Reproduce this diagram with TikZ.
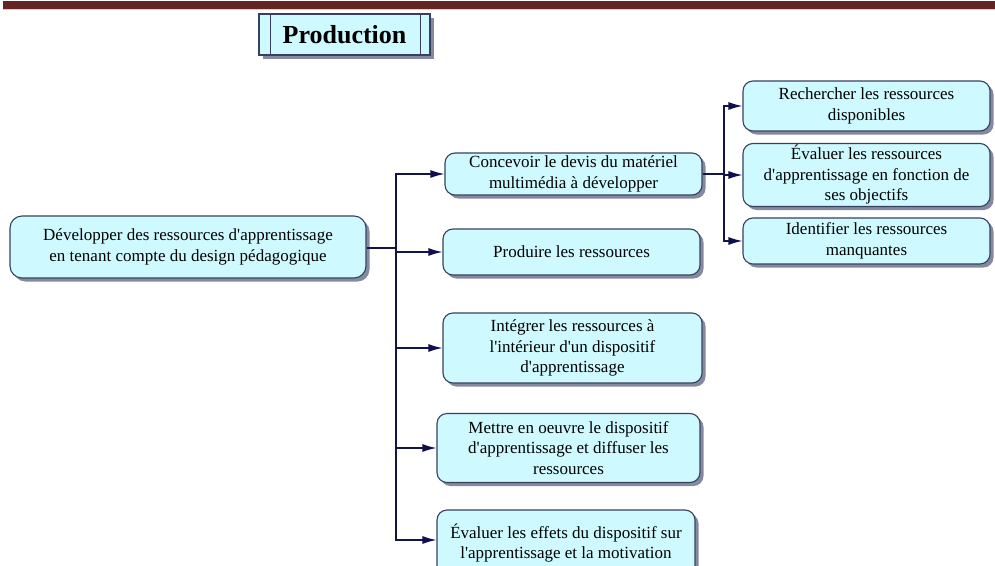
\documentclass[tikz,border=0pt]{standalone}
\usepackage{fontspec}
\setmainfont{Liberation Serif}[Ligatures=TeXOff]
\usetikzlibrary{arrows.meta,shadows}
\definecolor{band}{RGB}{100,36,34}
\definecolor{bandedge}{RGB}{232,200,200}
\definecolor{boxfill}{RGB}{206,250,255}
\definecolor{boxline}{RGB}{55,65,95}
\definecolor{shade}{RGB}{120,125,150}
\definecolor{linkcol}{RGB}{20,20,70}
\definecolor{tipcol}{RGB}{14,14,80}

\begin{document}
\begin{tikzpicture}[x=1pt,y=-1pt,
  card/.style={draw=boxline, line width=1.1pt, fill=boxfill, rounded corners=10pt,
    align=center, inner sep=0pt, font=\fontsize{17}{20.5}\selectfont,
    drop shadow={shadow xshift=3.5pt, shadow yshift=-3.5pt, fill=shade, opacity=0.9}},
  link/.style={draw=linkcol, line width=1.3pt},
  arrow/.style={link, -{Latex[length=14pt,width=8pt,color=tipcol]}},
]
\clip (0,0) rectangle (995,565);
\fill[white] (0,0) rectangle (995,565);

% header band
\fill[band] (3,1) rectangle (995,8.5);
\draw[bandedge, line width=0.8pt] (3,9.6) -- (995,9.6);

% title box
\node[draw=boxline, line width=1.1pt, fill=boxfill, minimum width=171pt, minimum height=41pt,
  inner sep=0pt, font=\fontsize{26}{30}\selectfont\bfseries,
  drop shadow={shadow xshift=3.5pt, shadow yshift=-3.5pt, fill=shade, opacity=0.9}]
  (title) at (344.5,34.5) {Production};
\draw[boxline, line width=1.1pt] ([xshift=12pt]title.north west) -- ([xshift=12pt]title.south west);
\draw[boxline, line width=1.1pt] ([xshift=-10pt]title.north east) -- ([xshift=-10pt]title.south east);

% main task
\node[card, rounded corners=12pt, minimum width=356pt, minimum height=62pt] (root) at (188,247)
  {Développer des ressources d'apprentissage\\en tenant compte du design pédagogique};

% sub-tasks
\node[card, minimum width=257pt, minimum height=42pt] (c1) at (573.5,174)
  {Concevoir le devis du matériel\\multimédia à développer};
\node[card, minimum width=257pt, minimum height=46pt] (c2) at (571.5,252)
  {Produire les ressources};
\node[card, minimum width=259pt, minimum height=70pt] (c3) at (572.5,348)
  {Intégrer les ressources à\\l'intérieur d'un dispositif\\d'apprentissage};
\node[card, minimum width=263pt, minimum height=69pt] (c4) at (568.5,448)
  {Mettre en oeuvre le dispositif\\d'apprentissage et diffuser les\\ressources};
\node[card, minimum width=258pt, minimum height=66pt] (c5) at (566,543)
  {Évaluer les effets du dispositif sur\\l'apprentissage et la motivation};

% design sub-steps
\node[card, minimum width=247pt, minimum height=50pt] (g1) at (866.5,106)
  {Rechercher les ressources\\disponibles};
\node[card, minimum width=247pt, minimum height=63pt] (g2) at (866.5,175)
  {Évaluer les ressources\\d'apprentissage en fonction de\\ses objectifs};
\node[card, minimum width=247pt, minimum height=46pt] (g3) at (866.5,241)
  {Identifier les ressources\\manquantes};

% connectors
\coordinate (trunk) at (396,248);
\coordinate (fork) at (724,174);
\draw[link] (root.east |- trunk) -- (trunk);
\foreach \n in {c1,c2,c3,c4}
  \draw[arrow] (trunk) |- (\n.west);
\coordinate (c5in) at (c5.west |- 0,540);
\draw[arrow] (trunk) |- (c5in);
\draw[link] (c1.east |- fork) -- (fork);
\foreach \n in {g1,g2,g3}
  \draw[arrow] (fork) |- (\n.west);
\end{tikzpicture}
\end{document}
